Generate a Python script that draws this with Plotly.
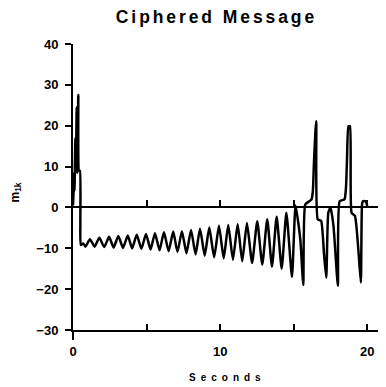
import plotly.graph_objects as go

# time (seconds) and signal values
t_start = [0.0, 0.03, 0.06, 0.10, 0.16, 0.20, 0.25, 0.29, 0.36, 0.41, 0.47, 0.50, 0.53, 0.70, 0.85]
v_start = [0.5, 3.0, 8.5, 4.0, 17.0, 10.0, 24.5, 8.5, 27.5, 9.0, 9.0, -3.5, -9.2, -8.8, -9.6]

t_osc = [1.15, 1.47, 1.79, 2.12, 2.45, 2.76, 3.08, 3.40, 3.72, 4.02, 4.33, 4.65, 4.96, 5.27,
         5.57, 5.88, 6.18, 6.50, 6.81, 7.10, 7.40, 7.71, 8.02, 8.33, 8.63, 8.95, 9.26, 9.59,
         9.92, 10.24, 10.55, 10.87, 11.19, 11.50, 11.82, 12.17, 12.52, 12.86, 13.20, 13.52,
         13.84, 14.18, 14.50, 14.88, 15.12]
v_osc = [-7.8, -9.6, -7.4, -9.7, -7.2, -9.8, -7.0, -9.9, -6.9, -10.0, -6.7, -10.1, -6.5, -10.3,
         -6.3, -10.5, -6.1, -10.7, -5.9, -10.9, -5.8, -11.2, -5.5, -11.5, -5.2, -11.8, -4.9, -12.2,
         -4.5, -12.5, -4.3, -12.8, -4.1, -13.2, -3.8, -13.6, -3.4, -14.0, -2.9, -14.5,
         -2.3, -15.0, -1.3, -17.0, 0.5]

t_end = [15.30, 15.45, 15.65, 15.78, 16.05, 16.21, 16.30, 16.37, 16.48, 16.53, 16.63, 16.86,
         17.05, 17.21, 17.35, 17.50, 17.70, 18.00, 18.12, 18.45, 18.55, 18.62, 18.72, 18.82,
         18.93, 19.16, 19.39, 19.56, 19.64, 19.70, 19.88, 20.00]
v_end = [-3.5, -8.0, -19.0, 0.7, 1.5, 2.0, 4.0, 10.5, 19.0, 21.1, -2.9, -3.3,
         -11.0, -17.2, -1.3, 0.0, -4.5, -19.2, 1.5, 2.0, 4.8, 11.7, 19.9, 19.9,
         -1.3, -2.1, -10.3, -18.4, 0.7, 1.5, 1.5, 0.3]

seconds = t_start + t_osc + t_end
m1k = v_start + v_osc + v_end

x_tickvals = [0, 10, 20]
x_ticktext = ["0", "10", "20"]
y_tickvals = [-30, -20, -10, 0, 10, 20, 30, 40]

FONT = "Liberation Sans, Arial, sans-serif"
SP = "\u2006"
title_text = SP.join("Ciphered Message")
xlabel_text = "\u2002".join("Seconds")

fig = go.Figure()
fig.add_trace(go.Scatter(x=seconds, y=m1k, mode="lines",
                         line=dict(color="black", width=2.5, shape="spline", smoothing=0.5),
                         hoverinfo="skip"))
# helper trace so the zero-level tick axis is drawn
fig.add_trace(go.Scatter(x=[None], y=[None], xaxis="x2", mode="lines", showlegend=False))

fig.update_layout(
    width=386, height=387,
    margin=dict(l=65, r=8, t=36, b=65),
    paper_bgcolor="white", plot_bgcolor="white",
    showlegend=False,
    title=dict(text="<b>" + title_text + "</b>", x=207/386, xanchor="center",
               y=1-9/387, yanchor="middle",
               font=dict(family=FONT, size=17.5, color="black")),
    xaxis=dict(range=[0, 21.27], tickvals=x_tickvals, ticktext=x_ticktext,
               ticks="inside", ticklen=6, tickwidth=2, tickcolor="black",
               ticklabelstandoff=8,
               minor=dict(tickvals=[5, 15], ticks="inside", ticklen=6, tickwidth=2,
                          tickcolor="black", showgrid=False),
               showline=True, linecolor="black", linewidth=2,
               showgrid=False, zeroline=False,
               tickfont=dict(family=FONT, size=13, color="black", weight="bold")),
    xaxis2=dict(range=[0, 21.27], overlaying="x", anchor="free", position=30/70,
                tickvals=[5, 10, 15, 20], ticks="inside", ticklen=6, tickwidth=2,
                tickcolor="black", showticklabels=False, showline=True,
                linecolor="black", linewidth=2, showgrid=False, zeroline=False),
    yaxis=dict(range=[-30, 40], tickvals=y_tickvals,
               ticks="outside", ticklen=6, tickwidth=2, tickcolor="black",
               ticklabelstandoff=4,
               showline=True, linecolor="black", linewidth=2,
               showgrid=False, zeroline=False,
               tickfont=dict(family=FONT, size=13, color="black", weight="bold")),
)

fig.add_shape(type="line", xref="paper", yref="paper", x0=0, x1=0, y0=0, y1=-10/286,
              line=dict(color="black", width=2))

fig.add_annotation(text="<b>" + xlabel_text + "</b>",
                   xref="paper", yref="paper", x=(225-73)/313, y=(330-377)/286,
                   xanchor="center", yanchor="middle", showarrow=False,
                   font=dict(family=FONT, size=10, color="black"))
fig.add_annotation(text="<b>m<sub>1k</sub></b>", textangle=-90,
                   xref="paper", yref="paper", x=(15.5-73)/313, y=(330-193)/286,
                   xanchor="center", yanchor="middle", showarrow=False,
                   font=dict(family=FONT, size=12, color="black"))

fig.write_html("out.html")
